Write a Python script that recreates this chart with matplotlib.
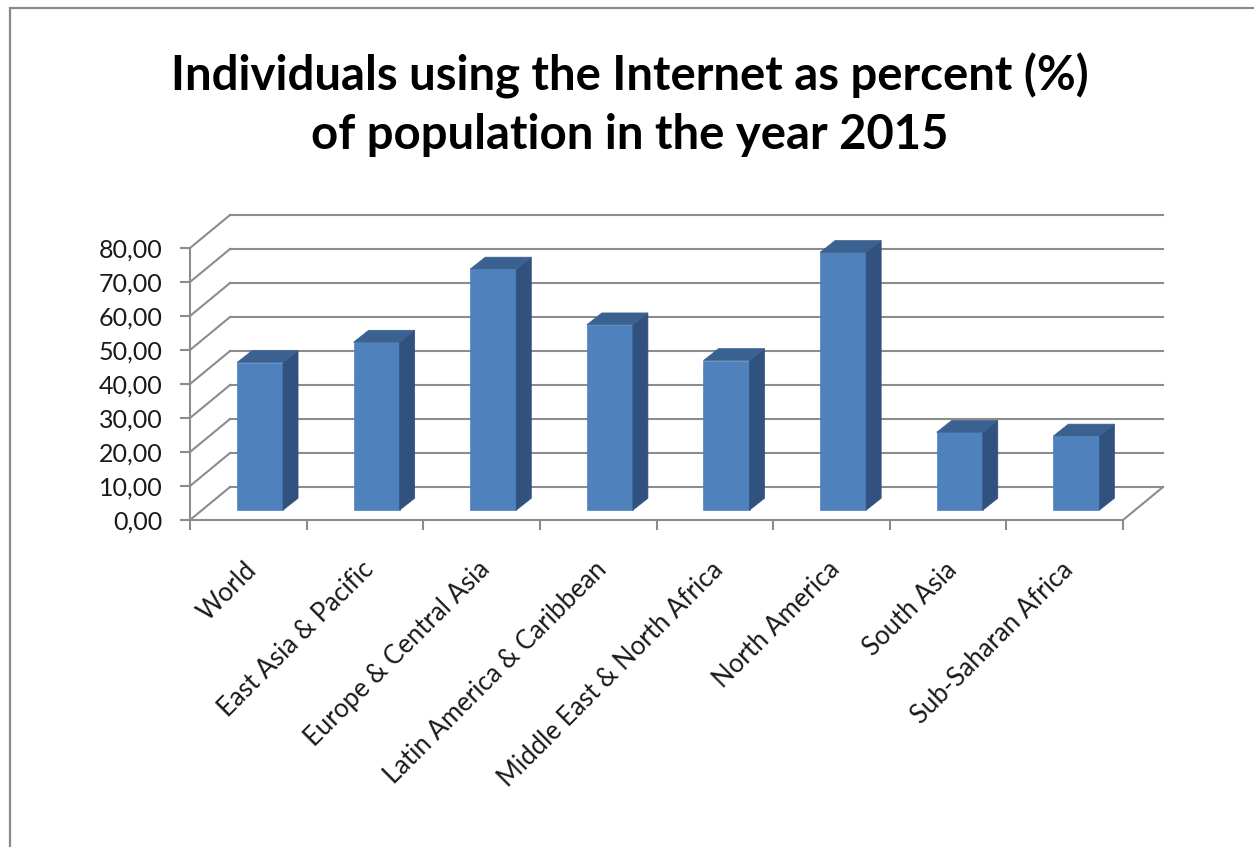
import matplotlib
matplotlib.use("Agg")
import matplotlib.pyplot as plt
from matplotlib.patches import Polygon, Rectangle

regions = ["World", "East Asia & Pacific", "Europe & Central Asia",
           "Latin America & Caribbean", "Middle East & North Africa",
           "North America", "South Asia", "Sub-Saharan Africa"]
internet_pct = [43.4, 49.4, 70.9, 54.5, 44.0, 75.8, 22.9, 21.8]
yticks = [0, 10, 20, 30, 40, 50, 60, 70, 80]
title = "Individuals using the Internet as percent (%)\nof population in the year 2015"

FONT = ["Lato", "DejaVu Sans"]
GRID = "#8c8c8c"
FRONT = "#4f81bd"
SIDE = "#31527e"
TOP = "#3b6191"

# fake 3d: offsets of the back wall and the bars, in data units
WALL_DX, WALL_DY = 0.343, 9.7
BAR_X, BAR_Y = 0.10, 2.9
BAR_W = 0.395
BAR_DX, BAR_DY = 0.129, 3.5

fig = plt.figure(figsize=(12.54, 8.47), dpi=100)
fig.patch.set_facecolor("white")

# chart frame
fig.patches.append(Rectangle((10 / 1254, -0.1), 1.2, (847 - 8) / 847 + 0.1,
                             transform=fig.transFigure, fill=False,
                             edgecolor="#8a8a8a", lw=1.6))

ax = fig.add_axes([190 / 1254, (847 - 520) / 847, 933 / 1254, 272 / 847])
ax.set_xlim(0, len(regions))
ax.set_ylim(0, 80)
ax.patch.set_alpha(0)

for s in ["top", "right"]:
    ax.spines[s].set_visible(False)
for s in ["left", "bottom"]:
    ax.spines[s].set_color(GRID)
    ax.spines[s].set_linewidth(1.5)

n = len(regions)
# back wall gridlines and left wall diagonals
for v in yticks:
    ax.plot([WALL_DX, n + WALL_DX], [v + WALL_DY, v + WALL_DY], color=GRID,
            lw=1.5, clip_on=False, zorder=1)
    ax.plot([0, WALL_DX], [v, v + WALL_DY], color=GRID, lw=1.5,
            clip_on=False, zorder=1)
# right edge of the floor
ax.plot([n, n + WALL_DX], [0, WALL_DY], color=GRID, lw=1.5, clip_on=False, zorder=1)

# bars
for i, val in enumerate(internet_pct):
    x0 = i + 0.5 + BAR_X - BAR_W / 2
    x1 = x0 + BAR_W
    y0 = BAR_Y
    y1 = BAR_Y + val
    front = Polygon([(x0, y0), (x1, y0), (x1, y1), (x0, y1)], closed=True,
                    facecolor=FRONT, edgecolor=FRONT, lw=0.5, clip_on=False, zorder=3)
    side = Polygon([(x1, y0), (x1 + BAR_DX, y0 + BAR_DY), (x1 + BAR_DX, y1 + BAR_DY),
                    (x1, y1)], closed=True, facecolor=SIDE, edgecolor=SIDE,
                   lw=0.5, clip_on=False, zorder=3)
    top = Polygon([(x0, y1), (x1, y1), (x1 + BAR_DX, y1 + BAR_DY),
                   (x0 + BAR_DX, y1 + BAR_DY)], closed=True, facecolor=TOP,
                  edgecolor=TOP, lw=0.5, clip_on=False, zorder=3)
    for p in (front, side, top):
        ax.add_patch(p)

# y axis
ax.set_yticks(yticks)
ax.set_yticklabels([f"{v:.2f}".replace(".", ",") for v in yticks],
                   fontsize=18, family=FONT, color="#1a1a1a")
ax.tick_params(axis="y", length=7, width=1.5, color=GRID, pad=13)

# x axis: tick marks at category borders, labels below the bars
ax.set_xticks(range(n + 1))
ax.set_xticklabels([])
ax.tick_params(axis="x", which="major", length=7, width=1.5, color=GRID)
ax.set_xticks([i + 0.5 + 0.04 for i in range(n)], minor=True)
ax.set_xticklabels(regions, minor=True, rotation=45, ha="right", va="center",
                   rotation_mode="anchor", fontsize=18.5, family=FONT, color="#1a1a1a")
ax.tick_params(axis="x", which="minor", length=0, pad=33)

fig.text(630 / 1254, 1 - 105 / 847, title, ha="center", va="center",
         fontsize=34, fontweight="bold", family=FONT, linespacing=1.4)

fig.savefig("out.png", dpi=100)
